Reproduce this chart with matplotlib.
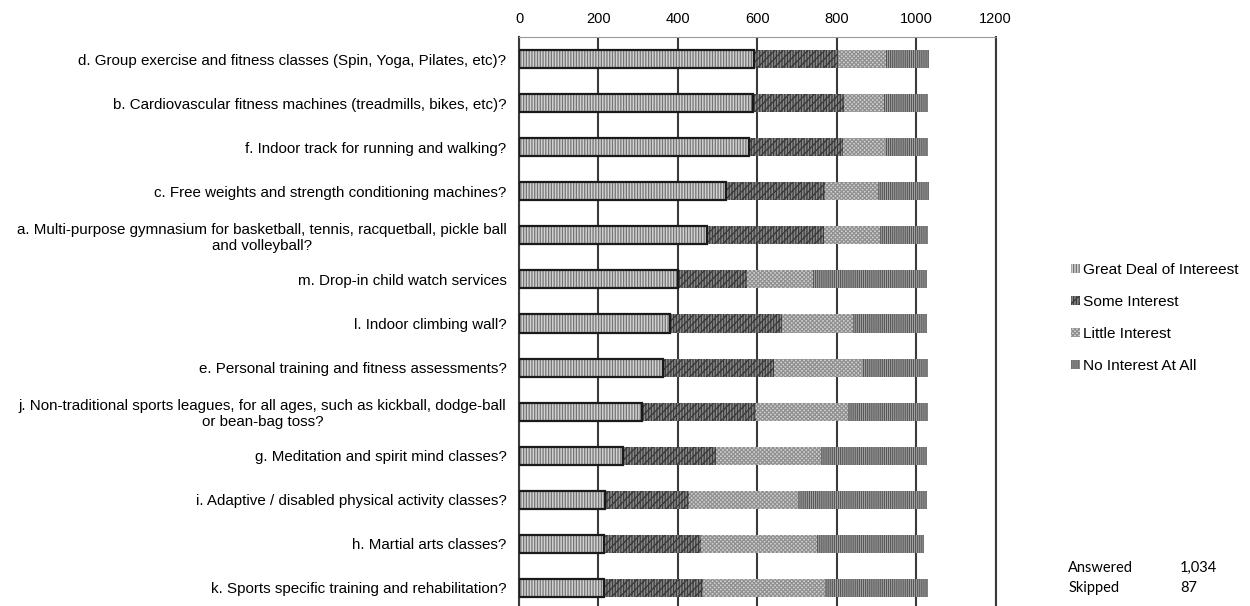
import numpy as np
import matplotlib.pyplot as plt

questions = [
    "d. Group exercise and fitness classes (Spin, Yoga, Pilates, etc)?",
    "b. Cardiovascular fitness machines (treadmills, bikes, etc)?",
    "f. Indoor track for running and walking?",
    "c. Free weights and strength conditioning machines?",
    "a. Multi-purpose gymnasium for basketball, tennis, racquetball, pickle ball\nand volleyball?",
    "m. Drop-in child watch services",
    "l. Indoor climbing wall?",
    "e. Personal training and fitness assessments?",
    "j. Non-traditional sports leagues, for all ages, such as kickball, dodge-ball\nor bean-bag toss?",
    "g. Meditation and spirit mind classes?",
    "i. Adaptive / disabled physical activity classes?",
    "h. Martial arts classes?",
    "k. Sports specific training and rehabilitation?",
]

great_deal = [592, 589, 578, 522, 472, 401, 381, 363, 309, 263, 216, 213, 213]
some_interest = [210, 229, 237, 248, 296, 172, 280, 279, 287, 234, 211, 246, 249]
little_interest = [121, 101, 106, 133, 141, 168, 179, 221, 233, 263, 276, 291, 308]
no_interest = [109, 110, 108, 129, 120, 285, 186, 166, 200, 266, 323, 270, 259]

series_names = ["Great Deal of Intereest", "Some Interest", "Little Interest", "No Interest At All"]
answered = "1,034"
skipped = "87"

# face, hatch, hatch colour for each response level
styles = [
    ("#d2d2d2", "||||||", "#747474"),
    ("#8a8a8a", "////||||||", "#3c3c3c"),
    ("#d2d2d2", "xxxxxxxx", "#909090"),
    ("#b0b0b0", "||||||||", "#585858"),
]

plt.rcParams["font.family"] = ["Liberation Sans", "DejaVu Sans"]
plt.rcParams["hatch.linewidth"] = 0.9

fig = plt.figure(figsize=(12.5, 6.06), dpi=100)
ax = fig.add_axes([0.4152, -0.0066, 0.3814, 0.9456])

y = np.arange(len(questions))
series = [great_deal, some_interest, little_interest, no_interest]
left = np.zeros(len(questions))
bar_h = 0.41
handles = []
for vals, (face, hatch, hcol), name in zip(series, styles, series_names):
    vals = np.array(vals, dtype=float)
    bars = ax.barh(y, vals, left=left, height=bar_h, color=face, hatch=hatch,
                   edgecolor=hcol, linewidth=0, zorder=3, label=name)
    handles.append(bars)
    left += vals

# heavy outline round the first segment
ax.barh(y, great_deal, height=bar_h, fill=False, edgecolor="#1a1a1a",
        linewidth=1.6, zorder=4)

ax.set_xlim(0, 1200)
ax.set_ylim(len(questions) - 0.5, -0.5)
ax.set_xticks(range(0, 1201, 200))
ax.xaxis.tick_top()
ax.tick_params(axis="x", length=0, pad=8, labelsize=10.5)
ax.tick_params(axis="y", length=0, pad=9)
ax.set_yticks(y)
ax.set_yticklabels(questions, fontsize=10.9, multialignment="center")

ax.grid(axis="x", color="#3a3a3a", linewidth=1.5, zorder=0)
ax.set_axisbelow(True)
for side in ("left", "right"):
    ax.spines[side].set_color("#3a3a3a")
    ax.spines[side].set_linewidth(1.5)
ax.spines["top"].set_color("#9a9a9a")
ax.spines["top"].set_linestyle((0, (1, 1)))
ax.spines["top"].set_linewidth(0.8)
ax.spines["bottom"].set_visible(False)

fig.legend(handles=handles, labels=series_names, loc="upper left",
           bbox_to_anchor=(0.852, 0.576), frameon=False, fontsize=11.1,
           handlelength=0.55, handleheight=0.55, handletextpad=0.2,
           labelspacing=1.17, borderaxespad=0)

for txt, xf, yp in [("Answered", 0.8545, 568), (answered, 0.944, 568),
                    ("Skipped", 0.8545, 588), (skipped, 0.944, 588)]:
    fig.text(xf, 1 - yp / 606, txt, fontsize=10.5, va="center",
             family=["Lato", "DejaVu Sans"])

fig.savefig("out.png", dpi=100)
